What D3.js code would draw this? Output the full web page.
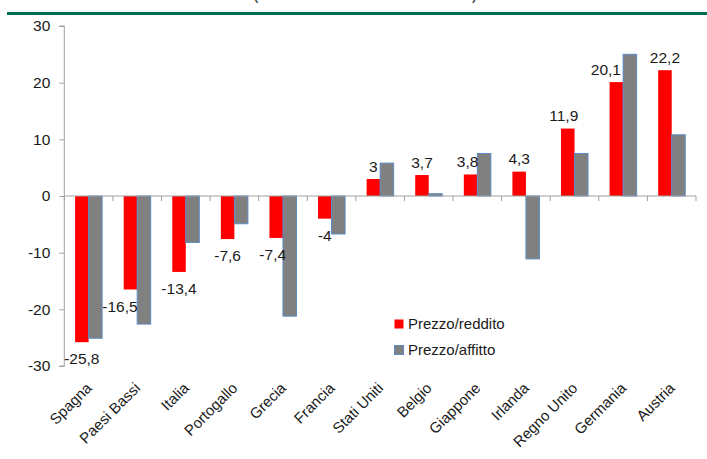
<!DOCTYPE html>
<html><head><meta charset="utf-8">
<script src="https://cdn.jsdelivr.net/npm/d3@7"></script>
<style>
html,body{margin:0;padding:0;background:#fff;}
svg{display:block;}
text{font-family:"Liberation Sans",Arial,sans-serif;fill:#1a1a1a;}
</style></head>
<body>
<svg id="chart" width="707" height="459"></svg>
<script>
const categories = ["Spagna","Paesi Bassi","Italia","Portogallo","Grecia","Francia","Stati Uniti","Belgio","Giappone","Irlanda","Regno Unito","Germania","Austria"];
const prezzoReddito = [-25.8,-16.5,-13.4,-7.6,-7.4,-4,3,3.7,3.8,4.3,11.9,20.1,22.2];
const prezzoAffitto = [-25.1,-22.6,-8.2,-4.9,-21.2,-6.7,5.8,0.4,7.5,-11.1,7.5,25.0,10.8];
const seriesNames = ["Prezzo/reddito","Prezzo/affitto"];
const yTicks = [-30,-20,-10,0,10,20,30];

(function(){
const svg = d3.select("#chart");
const left = 64.3, right = 696, plotTop = 26, plotBottom = 366;

// header rule and clipped title
svg.append("rect").attr("x",7).attr("y",12).attr("width",700).attr("height",3).attr("fill","#006B4F");
svg.append("text").attr("x",253).attr("y",0).attr("font-size",16).text("(");
svg.append("text").attr("x",472).attr("y",0).attr("font-size",16).text(")");

const x0 = d3.scaleBand().domain(categories).range([left,right]).padding(0);
const step = x0.step();
const gap = step*0.444;
const x1 = d3.scaleBand().domain(seriesNames).range([gap/2, step-gap/2]).padding(0);
const y = d3.scaleLinear().domain([-30,30]).range([plotBottom,plotTop]);

// y axis
const yAxis = d3.axisLeft(y).tickValues(yTicks).tickSize(5).tickPadding(9).tickFormat(d=>String(d));
const gy = svg.append("g").attr("transform",`translate(${left},0)`).call(yAxis);
gy.select(".domain").attr("stroke","#a0a0a0").attr("d",`M-5,${y(30)}H0V${y(-30)}H-5`);
gy.selectAll(".tick line").attr("stroke","#a0a0a0");
gy.selectAll(".tick text").attr("font-size",15.5).attr("fill","#1a1a1a").attr("font-family","Liberation Sans, Arial, sans-serif");

const data = categories.map((c,i)=>({cat:c, vals:[prezzoReddito[i], prezzoAffitto[i]]}));
const colors = ["#FF0000","#808080"];
const strokes = ["#FF6666","#5B8AC6"];

const g = svg.append("g");
const groups = g.selectAll("g.cat").data(data).join("g").attr("class","cat")
  .attr("transform",d=>`translate(${x0(d.cat)},0)`);
groups.selectAll("rect").data(d=>d.vals.map((v,k)=>({v,k}))).join("rect")
  .attr("x",d=>x1(seriesNames[d.k]))
  .attr("width",x1.bandwidth())
  .attr("y",d=>y(Math.max(0,d.v)))
  .attr("height",d=>Math.abs(y(d.v)-y(0)))
  .attr("fill",d=>colors[d.k])
  .attr("stroke",d=>d.k===0?"none":strokes[d.k])
  .attr("stroke-width",1);

// x axis
const xAxisG = svg.append("g").attr("transform",`translate(0,${y(0)})`);
xAxisG.append("line").attr("x1",left).attr("x2",right).attr("y1",0).attr("y2",0).attr("stroke","#a0a0a0");
const bounds = categories.map(c=>x0(c)).concat([right]);
xAxisG.selectAll("line.tk").data(bounds).join("line").attr("class","tk")
  .attr("x1",d=>d).attr("x2",d=>d).attr("y1",0).attr("y2",5).attr("stroke","#a0a0a0");

// category labels
svg.append("g").selectAll("text").data(categories).join("text")
  .attr("transform",c=>`translate(${x0(c)+step/2+4},389) rotate(-45)`)
  .attr("text-anchor","end").attr("font-size",15).text(c=>c);

// data labels for Prezzo/reddito
const nudge = {"Paesi Bassi":-10.5,"Grecia":-3.5,"Giappone":-3,"Regno Unito":-4,"Germania":-10.5};
const fmt = v => String(v).replace(".",",");
svg.append("g").selectAll("text").data(data).join("text")
  .attr("x",d=>x0(d.cat)+x1(seriesNames[0])+x1.bandwidth()/2+(nudge[d.cat]||0))
  .attr("y",d=>d.vals[0]<0 ? y(d.vals[0])+22 : y(d.vals[0])-7.5)
  .attr("text-anchor","middle").attr("font-size",15.5).text(d=>fmt(d.vals[0]));

// legend
const leg = svg.append("g");
seriesNames.forEach((s,i)=>{
  leg.append("rect").attr("x",394.5).attr("y",319.5+i*26).attr("width",9).attr("height",9)
    .attr("fill",colors[i]).attr("stroke",i===0?"none":strokes[i]).attr("stroke-width",1);
  leg.append("text").attr("x",408).attr("y",329+i*26).attr("font-size",15).text(s);
});
})();
</script>
</body></html>
